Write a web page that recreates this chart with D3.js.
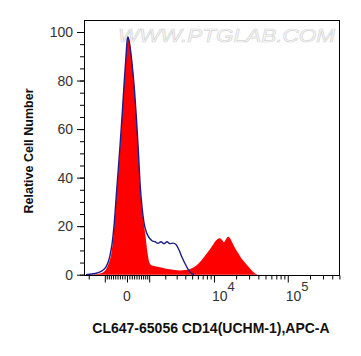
<!DOCTYPE html>
<html>
<head>
<meta charset="utf-8">
<script src="https://cdn.jsdelivr.net/npm/d3@7/dist/d3.min.js"></script>
<style>
  html, body { margin: 0; padding: 0; background: #fff; }
  svg { display: block; }
</style>
</head>
<body>
<svg id="chart" width="361" height="356"></svg>
<script>
// ---- Data (channel = display channel 0..256 on the biexponential axis) ----
const redChannels = [4, 11, 16, 20, 23, 25, 27, 29, 31, 33, 35, 37, 39, 41, 42, 43, 44, 45.5, 47, 49, 50.5, 52.5, 54.5, 56, 57.5, 59.5, 61.5, 63.5, 65, 67, 71, 76, 81, 86, 91, 96, 101, 106, 111, 116, 121, 126, 130, 133, 136, 138, 140, 142, 144, 146, 148, 151, 154, 157, 160, 163, 166, 169, 172, 175, 256];
const redCounts   = [0, 0.2, 0.5, 1.2, 3, 5, 8, 14, 24, 36, 46, 58, 72, 84, 91, 95, 97.4, 96, 91.5, 84, 76, 64, 49, 36.5, 29, 22, 16, 9, 5.5, 4, 3.5, 3.1, 2.6, 2.2, 1.9, 1.7, 1.9, 2.4, 3.4, 5.2, 7.8, 10.5, 13, 14.5, 15, 14.3, 13.4, 14.6, 15.6, 15, 13.5, 11, 9, 7, 5.4, 4, 2.6, 1.2, 0.3, 0, 0];

const blueChannels = [2, 8, 13, 18, 22, 24, 26, 28, 30, 32, 34, 36, 38, 40, 42, 43, 44, 45, 47, 49, 50.5, 52.5, 54.5, 56, 58, 60, 62, 64, 66, 68, 71, 74, 77, 80, 83, 86, 89, 92, 95, 98, 101, 104, 107, 110];
const blueCounts   = [0, 0.3, 0.7, 1.6, 3.2, 5, 8, 12.5, 20, 31, 42, 53, 65, 78, 90, 96, 98, 96.5, 91, 83, 76, 64, 50, 38, 28, 21.5, 18, 16, 14.8, 14, 13.6, 12.9, 13.6, 12.8, 13.6, 12.8, 13, 12.4, 10.2, 7.2, 4.6, 2.3, 0.7, 0];

const yTickValues = [0, 20, 40, 60, 80, 100];
const xMajorValues = [-1000, 0, 1000, 10000, 100000];
const xLabelValues = [0, 10000, 100000];
const xLabelTexts = [["0", ""], ["10", "4"], ["10", "5"]];
const xMinorValues = [-3000, -2000, -900, -800, -700, -600, -500, -400, -300, -200, -100,
  100, 200, 300, 400, 500, 600, 700, 800, 900,
  2000, 3000, 4000, 5000, 6000, 7000, 8000, 9000,
  20000, 30000, 40000, 50000, 60000, 70000, 80000, 90000,
  200000, 300000, 400000, 500000];

const xTitle = "CL647-65056 CD14(UCHM-1),APC-A";
const yTitle = "Relative Cell Number";
const watermark = "WWW.PTGLAB.COM";

// ---- Layout ----
const L = 84, R = 340, T = 20, B = 275;
const svg = d3.select("#chart");

const x = d3.scaleLinear().domain([0, 256]).range([L, R]);
const y = d3.scaleLinear().domain([0, 100]).range([274.7, 32]);
// biexponential (arcsinh) transform from fluorescence value to display channel
const ch = v => 43 + 32.1 * Math.asinh(v / 1337);

// watermark
svg.append("text")
  .attr("x", 118).attr("y", 42)
  .attr("textLength", 217)
  .attr("lengthAdjust", "spacingAndGlyphs")
  .attr("font-family", "Liberation Sans, Arial, sans-serif")
  .attr("font-size", 19)
  .attr("font-style", "italic")
  .attr("fill", "#fbfbfb")
  .attr("stroke", "#d6d6d6")
  .attr("stroke-width", 0.7)
  .text(watermark);

// red filled histogram
const redData = redChannels.map((c, i) => [c, redCounts[i]]);
svg.append("path")
  .datum(redData)
  .attr("fill", "#ff0000")
  .attr("d", d3.area().x(d => x(d[0])).y0(y(0)).y1(d => y(d[1])).curve(d3.curveMonotoneX));

// blue outline histogram
const blueData = blueChannels.map((c, i) => [c, blueCounts[i]]);
svg.append("path")
  .datum(blueData)
  .attr("fill", "none")
  .attr("stroke", "#1c1c8a")
  .attr("stroke-width", 1.4)
  .attr("d", d3.line().x(d => x(d[0])).y(d => y(d[1])).curve(d3.curveMonotoneX));

// frame
svg.append("rect")
  .attr("x", L + 0.5).attr("y", T + 0.5)
  .attr("width", R - L - 1).attr("height", B - T)
  .attr("fill", "none").attr("stroke", "#000").attr("stroke-width", 1);

// y axis
const yMinor = d3.range(0, 101, 5);
const yAxisMinor = d3.axisLeft(y).tickValues(yMinor).tickSize(4).tickFormat("");
svg.append("g").attr("transform", `translate(${L},0)`).call(yAxisMinor)
  .call(g => g.select(".domain").remove());
const yAxis = d3.axisLeft(y).tickValues(yTickValues).tickSize(7).tickPadding(4);
svg.append("g").attr("transform", `translate(${L},0)`).call(yAxis)
  .call(g => g.select(".domain").remove())
  .call(g => g.selectAll("text")
    .attr("font-family", "Liberation Sans, Arial, sans-serif")
    .attr("font-size", 14).attr("fill", "#333"));

// x axis (biexponential ticks)
const xs = d3.scaleLinear().domain([0, 256]).range([L, R]);
const inRange = v => ch(v) >= 0 && ch(v) <= 256;
const xAxisMinor = d3.axisBottom(xs).tickValues(xMinorValues.filter(inRange).map(ch)).tickSize(4).tickFormat("");
svg.append("g").attr("transform", `translate(0,${B + 0.5})`).call(xAxisMinor)
  .call(g => g.select(".domain").attr("d", `M${L},0H${R}`));
const xAxisMajor = d3.axisBottom(xs).tickValues(xMajorValues.map(ch)).tickSize(7).tickFormat("");
svg.append("g").attr("transform", `translate(0,${B + 0.5})`).call(xAxisMajor)
  .call(g => g.select(".domain").remove());

// x tick labels with superscripts
xLabelValues.forEach((v, i) => {
  const [base, sup] = xLabelTexts[i];
  const t = svg.append("text")
    .attr("y", 301)
    .attr("font-family", "Liberation Sans, Arial, sans-serif")
    .attr("font-size", 14).attr("fill", "#333");
  if (sup === "") {
    t.attr("x", xs(ch(v))).attr("text-anchor", "middle").text(base);
  } else {
    t.attr("x", xs(ch(v)) - 2).attr("text-anchor", "start");
    t.append("tspan").text(base);
    t.append("tspan").attr("dy", -10).attr("font-size", 13).text(sup);
  }
});

// titles
svg.append("text")
  .attr("x", 211).attr("y", 333)
  .attr("text-anchor", "middle")
  .attr("font-family", "Liberation Sans, Arial, sans-serif")
  .attr("font-weight", "bold").attr("font-size", 14).attr("fill", "#111")
  .text(xTitle);

svg.append("text")
  .attr("transform", "translate(33,151) rotate(-90)")
  .attr("text-anchor", "middle")
  .attr("font-family", "Liberation Sans, Arial, sans-serif")
  .attr("font-weight", "bold").attr("font-size", 12.5).attr("fill", "#111")
  .text(yTitle);
</script>
</body>
</html>
